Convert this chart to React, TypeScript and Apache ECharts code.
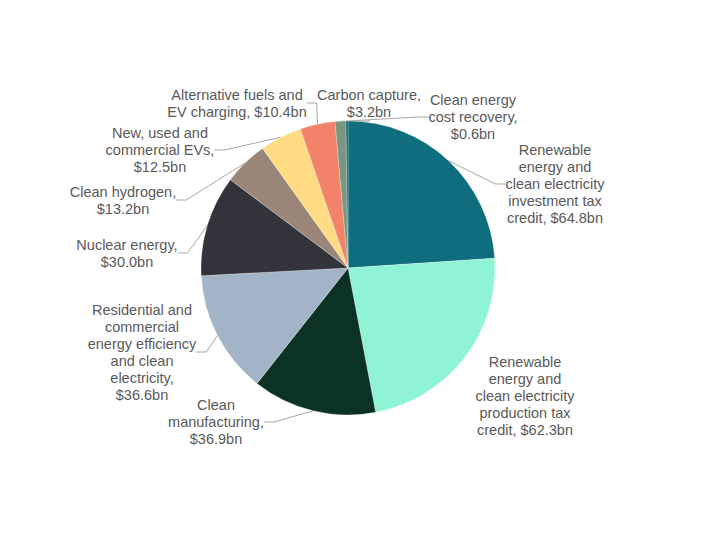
import React, { useEffect, useRef } from "react";
import * as echarts from "echarts";

const names: string[] = [
  "Renewable\nenergy and\nclean electricity\ninvestment tax\ncredit, ",
  "Renewable\nenergy and\nclean electricity\nproduction tax\ncredit, ",
  "Clean\nmanufacturing,\n",
  "Residential and\ncommercial\nenergy efficiency\nand clean\nelectricity,\n",
  "Nuclear energy,\n",
  "Clean hydrogen,\n",
  "New, used and\ncommercial EVs,\n",
  "Alternative fuels and\nEV charging, ",
  "Carbon capture,\n",
  "Clean energy\ncost recovery,\n",
];
const values: number[] = [64.8, 62.3, 36.9, 36.6, 30.0, 13.2, 12.5, 10.4, 3.2, 0.6];
const colors: string[] = [
  "#0e6e7d",
  "#8ff3d6",
  "#0a3325",
  "#a3b4c6",
  "#33333b",
  "#9a8679",
  "#ffdc84",
  "#f2826a",
  "#7b9680",
  "#0b5f6b",
];
// label anchor positions (layout only)
const labelPos: [number, number][] = [
  [555, 184],
  [525, 396],
  [216, 422],
  [142, 352],
  [127, 253],
  [123, 200],
  [160, 150],
  [237, 103],
  [369, 103],
  [473, 117],
];
const showLine: boolean[] = [true, false, true, true, true, true, true, true, true, true];

export default function App() {
  const ref = useRef<HTMLDivElement>(null);
  useEffect(() => {
    if (!ref.current) return;
    const chart = echarts.init(ref.current, undefined, { renderer: "svg" });
    chart.setOption({
      animation: false,
      backgroundColor: "#ffffff",
      series: [
        {
          type: "pie",
          center: [348, 268],
          radius: 147,
          startAngle: 90,
          clockwise: true,
          avoidLabelOverlap: false,
          data: values.map((v, i) => ({
            name: names[i],
            value: v,
            itemStyle: { color: colors[i] },
            labelLine: { show: showLine[i] },
          })),
          label: {
            show: true,
            formatter: (p: any) => p.name + "$" + Number(p.value).toFixed(1) + "bn",
            fontFamily: "Liberation Sans, Arial, sans-serif",
            fontSize: 14.5,
            lineHeight: 17,
            color: "#595959",
            align: "center",
          },
          labelLine: {
            show: true,
            length: 10,
            length2: 10,
            lineStyle: { color: "#a6a6a6", width: 1 },
          },
          labelLayout: (params: any) => {
            const p = labelPos[params.dataIndex];
            return {
              x: p[0],
              y: p[1],
              align: "center",
              verticalAlign: "middle",
            };
          },
          itemStyle: { borderWidth: 0.5, borderColor: "rgba(255,255,255,0.5)" },
          emphasis: { disabled: true },
        },
      ],
    });
    return () => chart.dispose();
  }, []);
  return (
    <div
      ref={ref}
      style={{ position: "fixed", left: 0, top: 0, width: 704, height: 534 }}
    />
  );
}
